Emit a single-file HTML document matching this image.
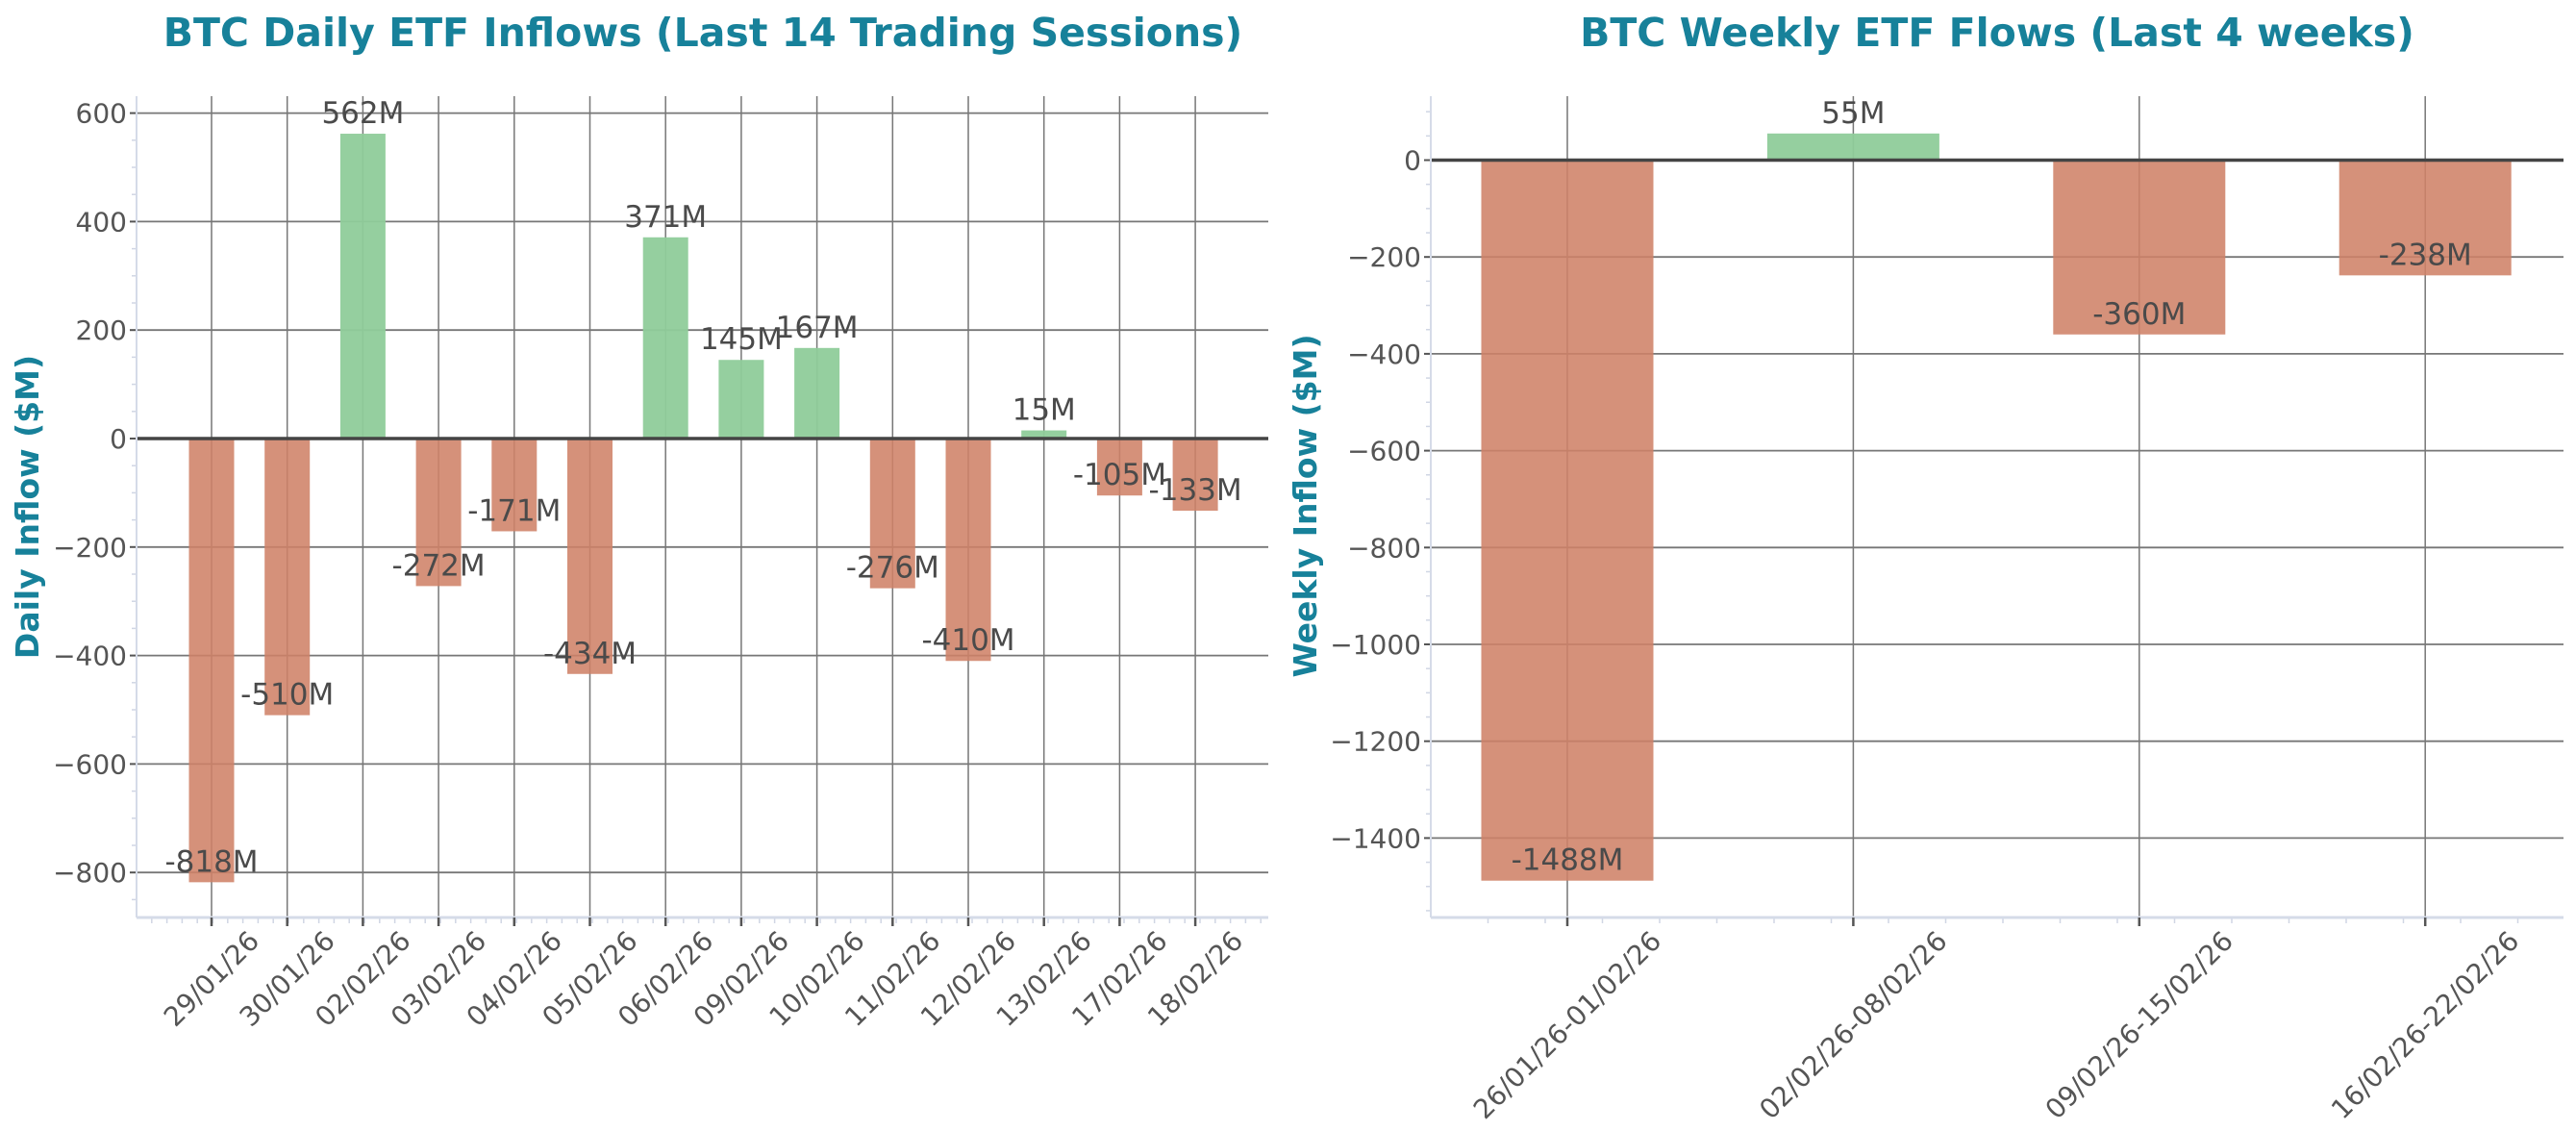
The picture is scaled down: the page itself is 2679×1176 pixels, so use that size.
<!DOCTYPE html>
<html><head><meta charset="utf-8">
<style>
html,body{margin:0;padding:0;background:#fff;}
svg{display:block;font-family:"DejaVu Sans","Liberation Sans",sans-serif;}
</style></head>
<body>
<svg id="chart" width="2679" height="1176" viewBox="0 0 2679 1176" xmlns="http://www.w3.org/2000/svg">
<rect width="2679" height="1176" fill="#fff"/>
<text x="731" y="48" text-anchor="middle" font-size="41" font-weight="bold" fill="#17819a">BTC Daily ETF Inflows (Last 14 Trading Sessions)</text>
<text x="2077" y="48" text-anchor="middle" font-size="41" font-weight="bold" fill="#17819a">BTC Weekly ETF Flows (Last 4 weeks)</text>
<text transform="translate(40,527) rotate(-90)" text-anchor="middle" font-size="33" font-weight="bold" fill="#17819a">Daily Inflow ($M)</text>
<text transform="translate(1369,526) rotate(-90)" text-anchor="middle" font-size="33" font-weight="bold" fill="#17819a">Weekly Inflow ($M)</text>
<g id="daily"></g>
<g id="weekly"></g>
</svg>
<script>
const dailyDates = ["29/01/26","30/01/26","02/02/26","03/02/26","04/02/26","05/02/26","06/02/26","09/02/26","10/02/26","11/02/26","12/02/26","13/02/26","17/02/26","18/02/26"];
const dailyValues = [-818,-510,562,-272,-171,-434,371,145,167,-276,-410,15,-105,-133];
const dailyTicks = [600,400,200,0,-200,-400,-600,-800];
const weeklyLabels = ["26/01/26-01/02/26","02/02/26-08/02/26","09/02/26-15/02/26","16/02/26-22/02/26"];
const weeklyValues = [-1488,55,-360,-238];
const weeklyTicks = [0,-200,-400,-600,-800,-1000,-1200,-1400];

const NS = "http://www.w3.org/2000/svg";
function mk(parent, tag, attrs, text){
  const e = document.createElementNS(NS, tag);
  for (const k in attrs) e.setAttribute(k, attrs[k]);
  if (text !== undefined) e.textContent = text;
  parent.appendChild(e);
  return e;
}

function drawChart(g, cfg){
  const {left,right,top,bottom,zeroY,pxPer,x0,dx,barW,cats,vals,ticks,labelOff,labelFont,minorStep,xMinor} = cfg;
  const y = v => zeroY - v*pxPer;
  const x = i => x0 + i*dx;
  const vmin = (zeroY-bottom)/pxPer, vmax = (zeroY-top)/pxPer;
  for (let v = Math.ceil(vmin/minorStep)*minorStep; v <= vmax; v += minorStep){
    const t = mk(g,'line',{x1:left-5,x2:left,y1:y(v),y2:y(v),stroke:'#d0d6e4','stroke-width':1.5});
    
    
  }
  ticks.forEach(v=>{
    const gl = mk(g,'line',{x1:left,x2:right,y1:y(v),y2:y(v),stroke:'#777','stroke-width':1.8});
    
    
    mk(g,'line',{x1:left-7,x2:left,y1:y(v),y2:y(v),stroke:'#555','stroke-width':2});
    const tl = mk(g,'text',{x:left-10,y:y(v)+10,'text-anchor':'end','font-size':28,fill:'#555'}, v<0?('\u2212'+Math.abs(v)):String(v));
    
    
  });
  for (let p = left + xMinor; p < right; p += xMinor){
    mk(g,'line',{x1:p,x2:p,y1:bottom,y2:bottom+6,stroke:'#d0d6e4','stroke-width':1.5});
  }
  cats.forEach((c,i)=>{
    const vl = mk(g,'line',{x1:x(i),x2:x(i),y1:top,y2:bottom,stroke:'#777','stroke-width':1.5});
    
    
  });
  vals.forEach((v,i)=>{
    const yv = y(v), y0 = y(0);
    const b = mk(g,'rect',{x:x(i)-barW/2,y:Math.min(yv,y0),width:barW,height:Math.abs(yv-y0),fill:v>=0?'#8fcc9a':'#cf8268','fill-opacity':v>=0?0.95:0.88});
    
    
  });
  const z = mk(g,'line',{x1:left,x2:right,y1:y(0),y2:y(0),stroke:'#444','stroke-width':3.5});
  
  
  mk(g,'line',{x1:left,x2:left,y1:top,y2:bottom,stroke:'#d5dbe8','stroke-width':2});
  mk(g,'line',{x1:left,x2:right,y1:bottom,y2:bottom,stroke:'#d5dbe8','stroke-width':3});
  vals.forEach((v,i)=>{
    const t = mk(g,'text',{x:x(i),y:y(v)-labelOff,'text-anchor':'middle','font-size':labelFont,fill:'#4a4a4a'}, v+'M');
    
    
  });
  cats.forEach((c,i)=>{
    mk(g,'line',{x1:x(i),x2:x(i),y1:bottom,y2:bottom+9,stroke:'#555','stroke-width':2.5});
    const L = cfg.labLen(c);
    const cy = bottom + 14 + L*0.7071/2;
    const t = mk(g,'text',{x:x(i),y:cy,'text-anchor':'middle','dominant-baseline':'central','font-size':cfg.tickFont,fill:'#555',transform:`rotate(-45 ${x(i)} ${cy})`}, c);
    
    
  });
}

drawChart(document.getElementById('daily'), {
  left:142,right:1319,top:100,bottom:954,zeroY:456,pxPer:112.8/200,
  x0:220,dx:78.7,barW:47,cats:dailyDates,vals:dailyValues,ticks:dailyTicks,
  labelOff:11,labelFont:31,minorStep:50,xMinor:15.8,tickFont:28,labLen:c=>c.length*17.6
});
drawChart(document.getElementById('weekly'), {
  left:1488,right:2666,top:100,bottom:954,zeroY:166.5,pxPer:100.7/200,
  x0:1630,dx:297.4,barW:179,cats:weeklyLabels,vals:weeklyValues,ticks:weeklyTicks,
  labelOff:11,labelFont:31,minorStep:50,xMinor:59.5,tickFont:28,labLen:c=>c.length*16.3
});
</script>
</body></html>
